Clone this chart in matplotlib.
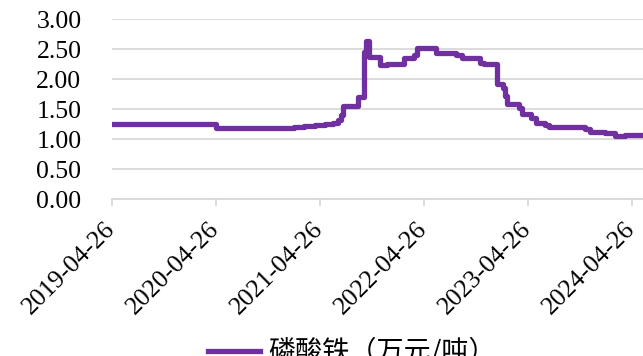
import matplotlib
matplotlib.use("Agg")
import matplotlib.pyplot as plt
import pandas as pd

# 磷酸铁价格（万元/吨），按变动日期读取
dates = ["2019-04-26", "2020-04-26", "2020-12-21", "2021-01-25", "2021-03-01",
         "2021-04-08", "2021-05-14", "2021-06-11", "2021-06-28", "2021-07-09",
         "2021-07-16", "2021-09-06", "2021-09-28", "2021-10-05", "2021-10-15",
         "2021-11-23", "2021-12-17", "2022-02-15", "2022-03-22", "2022-04-01",
         "2022-06-07", "2022-08-16", "2022-09-06", "2022-11-09", "2022-11-23",
         "2023-01-07", "2023-01-28", "2023-02-04", "2023-02-12", "2023-03-25",
         "2023-04-05", "2023-05-07", "2023-05-24", "2023-06-25", "2023-07-09",
         "2023-11-12", "2023-11-30", "2024-01-21", "2024-02-26", "2024-04-01",
         "2024-06-04"]
prices = [1.25, 1.18, 1.19, 1.20, 1.21,
          1.23, 1.25, 1.27, 1.31, 1.40,
          1.55, 1.70, 2.45, 2.63, 2.37,
          2.23, 2.25, 2.35, 2.40, 2.52,
          2.44, 2.40, 2.35, 2.27, 2.25,
          1.92, 1.85, 1.72, 1.58, 1.52,
          1.42, 1.35, 1.27, 1.23, 1.20,
          1.17, 1.12, 1.10, 1.05, 1.06,
          1.06]
tick_dates = ["2019-04-26", "2020-04-26", "2021-04-26", "2022-04-26", "2023-04-26", "2024-04-26"]
y_ticks = [0, 0.5, 1.0, 1.5, 2.0, 2.5, 3.0]
label = "磷酸铁（万元/吨）"

purple = "#7030A0"
grid_c = "#D9D9D9"

x = pd.to_datetime(dates)

fig = plt.figure(figsize=(6.43, 3.56), dpi=100)
ax = fig.add_axes([112 / 643, 1 - 199 / 356, 1 - 112 / 643, (199 - 19) / 356])

ax.plot(x, prices, color=purple, lw=3.8, drawstyle="steps-post",
        solid_joinstyle="round", label=label)

ax.set_ylim(0, 3)
ax.set_xlim(pd.Timestamp("2019-04-26"), pd.Timestamp("2024-06-04"))
ax.set_yticks(y_ticks)
ax.set_yticklabels([f"{v:.2f}" for v in y_ticks], fontfamily="Liberation Serif", fontsize=18.5)
ax.set_xticks(pd.to_datetime(tick_dates))
ax.set_xticklabels(tick_dates, rotation=45, ha="right", va="center", rotation_mode="anchor",
                   fontfamily="Liberation Serif", fontsize=18.5)

ax.grid(axis="y", color=grid_c, lw=1.3)
ax.set_axisbelow(True)
for s in ["top", "right", "left"]:
    ax.spines[s].set_visible(False)
ax.spines["bottom"].set_color(grid_c)
ax.spines["bottom"].set_linewidth(1.3)
ax.tick_params(axis="y", length=0, pad=22)
ax.tick_params(axis="x", length=5, width=1.3, color=grid_c, pad=14)

fig.legend(loc="center", bbox_to_anchor=(352 / 643, 1 - 352 / 356), frameon=False,
           prop={"family": ["Noto Sans CJK SC", "DejaVu Sans"], "size": 19.5},
           handlelength=1.9, handletextpad=0.3)

fig.savefig("out.png", dpi=100)
